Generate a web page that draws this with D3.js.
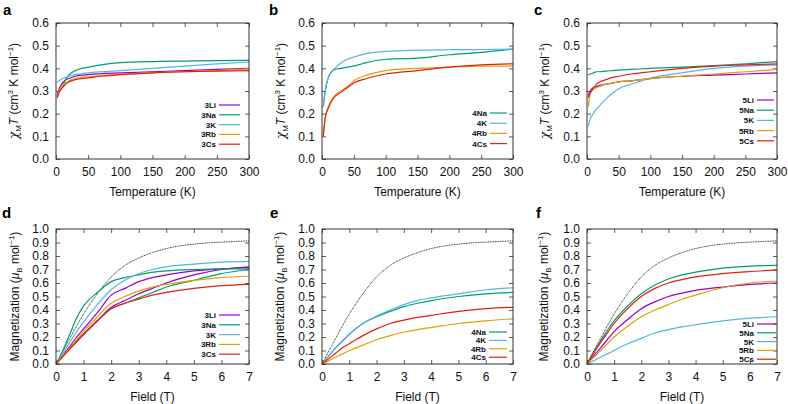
<!DOCTYPE html>
<html>
<head>
<meta charset="utf-8">
<script src="https://cdn.jsdelivr.net/npm/d3@7"></script>
<style>
  body { margin: 0; background: #fff; }
  svg { display: block; font-family: "Liberation Sans", Arial, sans-serif; }
  .tick text { font-size: 12px; fill: #111; }
  .domain { display: none; }
  .tick line { stroke: #333; stroke-width: 0.8; }
</style>
</head>
<body>
<div id="chart"></div>
<script>
// temperature grid (K) used for all chi*T curves
var temps = [2, 5, 10, 15, 20, 30, 40, 50, 70, 100, 150, 200, 250, 300];
// field grid (T) used for all magnetization curves
var fields = [0, 0.25, 0.5, 0.75, 1, 1.5, 2, 2.5, 3, 3.5, 4, 5, 6, 7];
// finer field grid for the dotted reference curve
var idealFields = [0, 0.5, 1, 1.5, 2, 2.5, 3, 3.5, 4, 4.5, 5, 5.5, 6, 6.5, 7];

// panel a
var chi3Li = [0.28, 0.31, 0.335, 0.35, 0.355, 0.365, 0.37, 0.372, 0.377, 0.38, 0.385, 0.39, 0.395, 0.40];
var chi3Na = [0.29, 0.30, 0.32, 0.35, 0.37, 0.39, 0.40, 0.405, 0.415, 0.425, 0.43, 0.432, 0.434, 0.435];
var chi3K  = [0.34, 0.345, 0.355, 0.36, 0.365, 0.372, 0.376, 0.38, 0.385, 0.39, 0.40, 0.41, 0.42, 0.428];
var chi3Rb = [0.27, 0.30, 0.325, 0.335, 0.345, 0.355, 0.36, 0.363, 0.368, 0.373, 0.38, 0.385, 0.39, 0.398];
var chi3Cs = [0.27, 0.295, 0.315, 0.33, 0.34, 0.35, 0.355, 0.358, 0.365, 0.372, 0.38, 0.385, 0.388, 0.39];

// panel b
var chi4Na = [0.23, 0.30, 0.36, 0.385, 0.395, 0.40, 0.405, 0.41, 0.425, 0.44, 0.445, 0.46, 0.47, 0.485];
var chi4K  = [0.23, 0.30, 0.36, 0.385, 0.40, 0.425, 0.44, 0.45, 0.465, 0.475, 0.48, 0.482, 0.483, 0.485];
var chi4Rb = [0.10, 0.18, 0.23, 0.26, 0.28, 0.30, 0.32, 0.345, 0.37, 0.39, 0.40, 0.405, 0.41, 0.41];
var chi4Cs = [0.10, 0.18, 0.225, 0.255, 0.275, 0.295, 0.315, 0.335, 0.355, 0.375, 0.39, 0.405, 0.415, 0.42];

// panel c
var chi5Li = [0.28, 0.30, 0.315, 0.32, 0.325, 0.33, 0.335, 0.34, 0.345, 0.355, 0.365, 0.37, 0.375, 0.38];
var chi5Na = [0.37, 0.375, 0.38, 0.385, 0.385, 0.388, 0.39, 0.392, 0.395, 0.40, 0.405, 0.412, 0.42, 0.43];
var chi5K  = [0.145, 0.175, 0.20, 0.22, 0.235, 0.265, 0.29, 0.31, 0.33, 0.357, 0.38, 0.40, 0.41, 0.415];
var chi5Rb = [0.23, 0.29, 0.31, 0.315, 0.32, 0.33, 0.335, 0.34, 0.345, 0.355, 0.365, 0.375, 0.385, 0.395];
var chi5Cs = [0.27, 0.29, 0.31, 0.33, 0.34, 0.35, 0.36, 0.365, 0.375, 0.385, 0.40, 0.41, 0.415, 0.42];

// dotted reference curve in d, e, f
var magIdeal = [0, 0.19, 0.37, 0.52, 0.645, 0.73, 0.785, 0.825, 0.855, 0.875, 0.888, 0.897, 0.903, 0.908, 0.912];

// panel d
var mag3Li  = [0, 0.065, 0.13, 0.20, 0.26, 0.38, 0.51, 0.56, 0.61, 0.64, 0.66, 0.69, 0.705, 0.715];
var mag3Li2 = [0, 0.06, 0.115, 0.17, 0.22, 0.32, 0.42, 0.47, 0.52, 0.56, 0.60, 0.66, 0.70, 0.72];
var mag3Na  = [0, 0.10, 0.22, 0.34, 0.43, 0.53, 0.61, 0.64, 0.66, 0.68, 0.69, 0.70, 0.705, 0.705];
var mag3Na2 = [0, 0.06, 0.115, 0.17, 0.22, 0.32, 0.41, 0.45, 0.49, 0.53, 0.57, 0.62, 0.67, 0.70];
var mag3K   = [0, 0.08, 0.16, 0.24, 0.31, 0.44, 0.55, 0.62, 0.67, 0.70, 0.72, 0.74, 0.755, 0.76];
var mag3Rb  = [0, 0.06, 0.12, 0.18, 0.24, 0.35, 0.45, 0.50, 0.54, 0.57, 0.59, 0.62, 0.64, 0.65];
var mag3Cs  = [0, 0.055, 0.11, 0.165, 0.22, 0.32, 0.41, 0.45, 0.48, 0.51, 0.53, 0.56, 0.58, 0.59];

// panel e
var mag4Na = [0, 0.06, 0.12, 0.17, 0.22, 0.30, 0.35, 0.39, 0.425, 0.45, 0.47, 0.50, 0.52, 0.53];
var mag4K  = [0, 0.06, 0.12, 0.17, 0.22, 0.30, 0.355, 0.40, 0.44, 0.47, 0.49, 0.52, 0.55, 0.565];
var mag4Rb = [0, 0.025, 0.05, 0.075, 0.10, 0.14, 0.18, 0.21, 0.235, 0.255, 0.27, 0.30, 0.32, 0.335];
var mag4Cs = [0, 0.04, 0.08, 0.12, 0.15, 0.21, 0.26, 0.30, 0.325, 0.345, 0.36, 0.39, 0.41, 0.42];

// panel f
var mag5Li = [0, 0.06, 0.12, 0.18, 0.24, 0.33, 0.41, 0.46, 0.50, 0.525, 0.545, 0.57, 0.59, 0.60];
var mag5Na = [0, 0.09, 0.17, 0.25, 0.32, 0.43, 0.52, 0.585, 0.63, 0.66, 0.68, 0.71, 0.725, 0.73];
var mag5K  = [0, 0.025, 0.05, 0.075, 0.10, 0.15, 0.19, 0.23, 0.255, 0.275, 0.29, 0.32, 0.34, 0.35];
var mag5Rb = [0, 0.05, 0.10, 0.15, 0.20, 0.28, 0.35, 0.40, 0.44, 0.48, 0.51, 0.565, 0.60, 0.615];
var mag5Cs = [0, 0.08, 0.16, 0.23, 0.30, 0.41, 0.50, 0.56, 0.60, 0.625, 0.645, 0.67, 0.685, 0.695];

var colors = {Li: "#9400d3", Na: "#009e73", K: "#56b4e9", Rb: "#e69f00", Cs: "#e51e10"};

var chiTicks = [0, 0.1, 0.2, 0.3, 0.4, 0.5, 0.6];
var tempTicks = [0, 50, 100, 150, 200, 250, 300];
var magTicks = [0, 0.1, 0.2, 0.3, 0.4, 0.5, 0.6, 0.7, 0.8, 0.9, 1.0];
var fieldTicks = [0, 1, 2, 3, 4, 5, 6, 7];

var width = 788, height = 404;
var svg = d3.select("#chart").append("svg")
    .attr("width", width)
    .attr("height", height);

var cols = [[56, 249], [322, 513], [587, 777]];
var rows = [[23, 159], [229, 364]];

var panels = [
    {letter: "a", col: 0, row: 0, kind: "chi", labelX: 3, titleX: 14,
     series: [["3Li", chi3Li, "Li"], ["3Na", chi3Na, "Na"], ["3K", chi3K, "K"], ["3Rb", chi3Rb, "Rb"], ["3Cs", chi3Cs, "Cs"]],
     legend: {y: 105, dy: 9.8, x1: 219, x2: 240}},
    {letter: "b", col: 1, row: 0, kind: "chi", labelX: 269, titleX: 281,
     series: [["4Na", chi4Na, "Na"], ["4K", chi4K, "K"], ["4Rb", chi4Rb, "Rb"], ["4Cs", chi4Cs, "Cs"]],
     legend: {y: 113, dy: 10.2, x1: 490, x2: 507}},
    {letter: "c", col: 2, row: 0, kind: "chi", labelX: 534, titleX: 545,
     series: [["5Li", chi5Li, "Li"], ["5Na", chi5Na, "Na"], ["5K", chi5K, "K"], ["5Rb", chi5Rb, "Rb"], ["5Cs", chi5Cs, "Cs"]],
     legend: {y: 100, dy: 10.2, x1: 757, x2: 774}},
    {letter: "d", col: 0, row: 1, kind: "mag", labelX: 2, titleX: 15,
     series: [["3Li", mag3Li, "Li"], ["3Na", mag3Na, "Na"], ["3K", mag3K, "K"], ["3Rb", mag3Rb, "Rb"], ["3Cs", mag3Cs, "Cs"]],
     extra: [[mag3Li2, "Li"], [mag3Na2, "Na"]],
     legend: {y: 315, dy: 9.8, x1: 219, x2: 240}},
    {letter: "e", col: 1, row: 1, kind: "mag", labelX: 270, titleX: 280,
     series: [["4Na", mag4Na, "Na"], ["4K", mag4K, "K"], ["4Rb", mag4Rb, "Rb"], ["4Cs", mag4Cs, "Cs"]],
     legend: {y: 332, dy: 8.4, x1: 489, x2: 507}},
    {letter: "f", col: 2, row: 1, kind: "mag", labelX: 536, titleX: 544,
     series: [["5Li", mag5Li, "Li"], ["5Na", mag5Na, "Na"], ["5K", mag5K, "K"], ["5Rb", mag5Rb, "Rb"], ["5Cs", mag5Cs, "Cs"]],
     legend: {y: 324, dy: 8.8, x1: 757, x2: 776}}
];

panels.forEach(function(p) {
    var left = cols[p.col][0], right = cols[p.col][1];
    var top = rows[p.row][0], bottom = rows[p.row][1];
    var isChi = p.kind == "chi";
    var xs = isChi ? temps : fields;

    var x = d3.scaleLinear().domain(isChi ? [0, 300] : [0, 7]).range([left, right]);
    var y = d3.scaleLinear().domain(isChi ? [0, 0.6] : [0, 1]).range([bottom, top]);
    var xt = isChi ? tempTicks : fieldTicks;
    var yt = isChi ? chiTicks : magTicks;

    var g = svg.append("g");

    // axes, ticks pointing inward and mirrored
    g.append("g").attr("transform", "translate(0," + bottom + ")")
        .call(d3.axisBottom(x).tickValues(xt).tickSizeInner(-4).tickSizeOuter(0).tickPadding(8)
            .tickFormat(d3.format("d")));
    g.append("g").attr("transform", "translate(0," + top + ")")
        .call(d3.axisTop(x).tickValues(xt).tickSizeInner(-4).tickSizeOuter(0).tickFormat(""));
    g.append("g").attr("transform", "translate(" + left + ",0)")
        .call(d3.axisLeft(y).tickValues(yt).tickSizeInner(-4).tickSizeOuter(0).tickPadding(7)
            .tickFormat(d3.format(".1f")));
    g.append("g").attr("transform", "translate(" + right + ",0)")
        .call(d3.axisRight(y).tickValues(yt).tickSizeInner(-4).tickSizeOuter(0).tickFormat(""));

    var line = d3.line()
        .x(function(d, i) { return x(xs[i]); })
        .y(function(d) { return y(d); })
        .curve(d3.curveMonotoneX);

    if (!isChi) {
        var idealLine = d3.line()
            .x(function(d, i) { return x(idealFields[i]); })
            .y(function(d) { return y(d); })
            .curve(d3.curveMonotoneX);
        g.append("path").datum(magIdeal)
            .attr("d", idealLine)
            .attr("fill", "none")
            .attr("stroke", "#333")
            .attr("stroke-width", 1)
            .attr("stroke-dasharray", "1,0.7");
    }
    (p.extra || []).forEach(function(s) {
        g.append("path").datum(s[0])
            .attr("d", line)
            .attr("fill", "none")
            .attr("stroke", colors[s[1]])
            .attr("stroke-width", 1.2);
    });
    p.series.forEach(function(s) {
        g.append("path").datum(s[1])
            .attr("d", line)
            .attr("fill", "none")
            .attr("stroke", colors[s[2]])
            .attr("stroke-width", 1.2);
    });

    // frame
    g.append("rect")
        .attr("x", left).attr("y", top)
        .attr("width", right - left).attr("height", bottom - top)
        .attr("fill", "none").attr("stroke", "#333").attr("stroke-width", 1);

    // legend
    p.series.forEach(function(s, i) {
        var ly = p.legend.y + i * p.legend.dy;
        g.append("line")
            .attr("x1", p.legend.x1).attr("x2", p.legend.x2)
            .attr("y1", ly).attr("y2", ly)
            .attr("stroke", colors[s[2]]).attr("stroke-width", 1.2);
        g.append("text")
            .attr("x", p.legend.x1 - 3).attr("y", ly + 3)
            .attr("text-anchor", "end")
            .style("font-size", "8px").style("font-weight", "bold").attr("fill", "#111")
            .text(s[0]);
    });

    // x title
    g.append("text")
        .attr("x", (left + right) / 2).attr("y", isChi ? 196 : 401)
        .attr("text-anchor", "middle")
        .style("font-size", "12px").attr("fill", "#111")
        .text(isChi ? "Temperature (K)" : "Field (T)");

    // y title
    var yt2 = g.append("text")
        .attr("transform", "translate(" + p.titleX + "," + (top + bottom) / 2 + ") rotate(-90)")
        .attr("text-anchor", "middle").attr("dy", "0.35em")
        .style("font-size", "12px").attr("fill", "#111");
    if (isChi) {
        yt2.append("tspan").style("font-style", "italic").style("font-family", "DejaVu Serif").text("χ");
        yt2.append("tspan").attr("dy", 3).style("font-size", "8px").text("M");
        yt2.append("tspan").attr("dy", -3).style("font-style", "italic").text("T");
        yt2.append("tspan").text(" (cm");
        yt2.append("tspan").attr("dy", -5).style("font-size", "8px").text("3");
        yt2.append("tspan").attr("dy", 5).text(" K mol");
        yt2.append("tspan").attr("dy", -5).style("font-size", "8px").text("−1");
        yt2.append("tspan").attr("dy", 5).text(")");
    } else {
        yt2.append("tspan").text("Magnetization (");
        yt2.append("tspan").style("font-style", "italic").text("μ");
        yt2.append("tspan").attr("dy", 3).style("font-size", "8px").text("B");
        yt2.append("tspan").attr("dy", -3).text(" mol");
        yt2.append("tspan").attr("dy", -5).style("font-size", "8px").text("−1");
        yt2.append("tspan").attr("dy", 5).text(")");
    }

    // panel letter
    g.append("text")
        .attr("x", p.labelX).attr("y", p.row == 0 ? 15 : 218)
        .style("font-size", "15px").style("font-weight", "bold").attr("fill", "#000")
        .text(p.letter);
});
</script>
</body>
</html>
